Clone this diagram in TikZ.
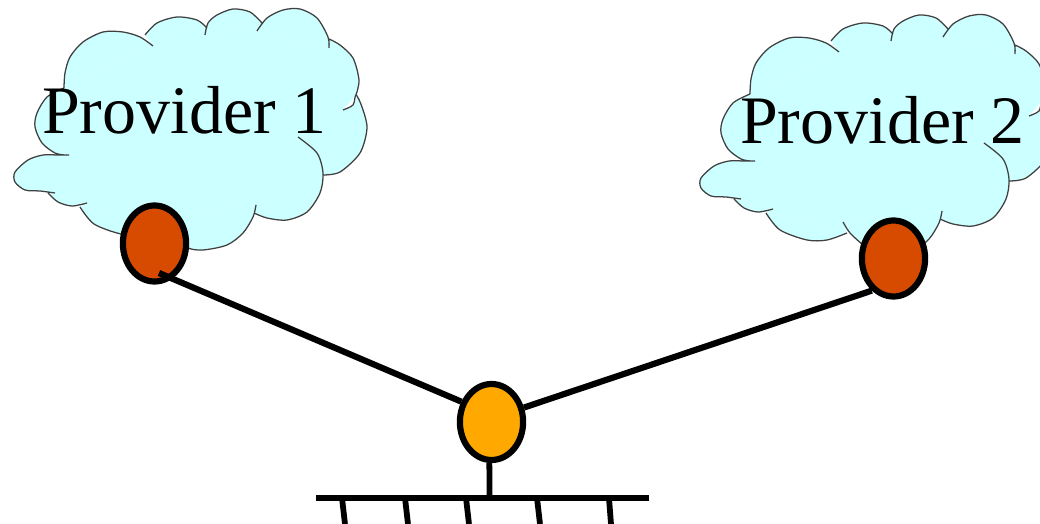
\documentclass[tikz,border=0pt]{standalone}
\usepackage{fontspec}
\setmainfont{Liberation Serif}
\usetikzlibrary{shapes.geometric}
\definecolor{cloudcyan}{HTML}{CCFFFF}
\definecolor{cloudedge}{HTML}{404040}
\definecolor{gwred}{HTML}{D64B00}
\definecolor{gworange}{HTML}{FFA800}
\tikzset{
	gateway/.style={ellipse,draw=black,line width=4.4pt,inner sep=0pt,minimum width=1.58cm,minimum height=1.9cm},
	wire/.style={line width=4.4pt,black},
	lan/.style={line width=4.1pt,black},
	provlabel/.style={anchor=base,inner sep=0pt,font=\fontsize{48.3}{50}\selectfont},
	pics/providercloud/.style={code={
		\fill[cloudcyan] (153,46) -- (64,88) -- (63,90) -- (65,155) -- (69,155) -- (55,193) -- (48,193) -- (87,203) -- (80,207) -- (161,227) -- (157,216) -- (256,205) -- (254,213) -- (298,137) -- (323,175) -- (343,110) -- (356,95) -- (329,39) -- (329,48) -- (257,31) -- (262,23) -- (205,35) -- (207,28) -- (145,35) -- cycle;
		\filldraw[fill=cloudcyan,draw=cloudedge,line width=0.9pt]
			plot[smooth] coordinates {(153,46) (140,37) (123,32) (103,32) (83,42) (70,57) (65,73) (64,88)}
			plot[smooth] coordinates {(64,88) (47,97) (37,113) (35,127) (42,143) (55,153) (65,155)}
			plot[smooth] coordinates {(69,155) (58,155) (43,155) (28,160) (15,172) (15,182) (25,190) (40,191) (55,193)}
			plot[smooth] coordinates {(48,193) (58,202) (72,206) (87,203)}
			plot[smooth] coordinates {(80,207) (94,224) (121,234) (141,234) (161,227)}
			plot[smooth] coordinates {(157,216) (164,227) (177,239) (188,248) (203,250) (227,245) (243,233) (253,217) (256,205)}
			plot[smooth] coordinates {(254,213) (267,218) (287,220) (307,212) (320,193) (323,173) (317,153) (298,137)}
			plot[smooth] coordinates {(323,175) (340,172) (360,153) (367,128) (362,107) (356,95) (353,105) (343,110)}
			plot[smooth] coordinates {(356,95) (359,80) (353,58) (340,45) (329,39)}
			plot[smooth] coordinates {(329,48) (328,37) (317,18) (300,9) (283,10) (267,18) (257,31)}
			plot[smooth] coordinates {(262,23) (250,12) (233,9) (217,15) (208,23) (205,35)}
			plot[smooth] coordinates {(207,28) (197,20) (177,17) (157,23) (145,35)};
	}}
}
\begin{document}
\begin{tikzpicture}[x=0.025cm,y=-0.025cm]
	\useasboundingbox (0,0) rectangle (1040,524);
	\clip (0,0) rectangle (1040,524);
	% clouds
	\pic (cloud1) at (0,0) {providercloud};
	\pic (cloud2) at (686,6) {providercloud};
	\node[provlabel] (label1) at (184.5,134) {Provider 1};
	\node[provlabel] (label2) at (882.5,144) {Provider 2};
	% gateways
	\node[gateway,fill=gwred] (prov1) at (154.5,243.5) {};
	\node[gateway,fill=gwred] (prov2) at (893.5,258.5) {};
	\node[gateway,fill=gworange] (home) at (491.5,422) {};
	\coordinate (prov1in) at (159,273);
	\draw[wire] (prov1in) -- (home.146);
	\draw[wire] (prov2.236) -- (home.24);
	% lan
	\coordinate (busl) at (316,498);
	\coordinate (busr) at (649,498);
	\coordinate (stem) at (489.5,498);
	\draw[lan] (home.267) -- (stem);
	\draw[lan] (busl) -- (busr);
	\coordinate (t1) at (342,498);
	\coordinate (b1) at (345,524);
	\coordinate (t2) at (405,498);
	\coordinate (b2) at (408,524);
	\coordinate (t3) at (466,498);
	\coordinate (b3) at (469,524);
	\coordinate (t4) at (537,498);
	\coordinate (b4) at (540,524);
	\coordinate (t5) at (609,498);
	\coordinate (b5) at (611,524);
	\draw[lan] (t1) -- (b1);
	\draw[lan] (t2) -- (b2);
	\draw[lan] (t3) -- (b3);
	\draw[lan] (t4) -- (b4);
	\draw[lan] (t5) -- (b5);
\end{tikzpicture}
\end{document}
